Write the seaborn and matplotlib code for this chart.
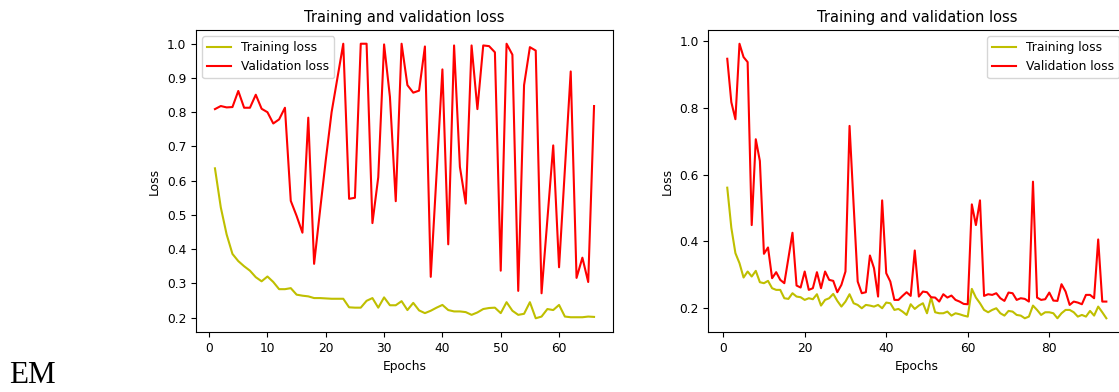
import numpy as np
import matplotlib
matplotlib.use("Agg")
import matplotlib.pyplot as plt
import seaborn as sns

# run 1 (left): 66 epochs
train_loss_1 = [0.636, 0.522, 0.443, 0.386, 0.365, 0.35, 0.337, 0.318, 0.306, 0.32,
                0.304, 0.283, 0.283, 0.286, 0.267, 0.264, 0.262, 0.257, 0.257, 0.256,
                0.255, 0.255, 0.255, 0.23, 0.229, 0.229, 0.249, 0.257, 0.229, 0.259,
                0.236, 0.236, 0.248, 0.222, 0.243, 0.221, 0.213, 0.22, 0.229, 0.237,
                0.222, 0.218, 0.218, 0.216, 0.208, 0.215, 0.225, 0.228, 0.229, 0.213,
                0.245, 0.22, 0.208, 0.211, 0.245, 0.198, 0.203, 0.225, 0.222, 0.237,
                0.203, 0.201, 0.201, 0.201, 0.203, 0.202]
val_loss_1 = [0.809, 0.818, 0.814, 0.815, 0.862, 0.813, 0.813, 0.851, 0.81, 0.80,
              0.767, 0.779, 0.813, 0.541, 0.497, 0.448, 0.784, 0.357, 0.51, 0.66,
              0.80, 0.90, 1.0, 0.547, 0.55, 1.0, 1.0, 0.476, 0.61, 0.998,
              0.845, 0.54, 1.0, 0.879, 0.857, 0.863, 0.992, 0.319, 0.62, 0.925,
              0.414, 0.995, 0.64, 0.533, 0.995, 0.809, 0.995, 0.993, 0.975, 0.337,
              1.0, 0.968, 0.278, 0.879, 0.99, 0.98, 0.271, 0.487, 0.703, 0.347,
              0.633, 0.919, 0.316, 0.375, 0.304, 0.818]

# run 2 (right): 94 epochs
train_loss_2 = [0.561, 0.441, 0.365, 0.335, 0.292, 0.310, 0.295, 0.312, 0.278, 0.275,
                0.282, 0.26, 0.255, 0.255, 0.23, 0.228, 0.245, 0.235, 0.233, 0.225,
                0.23, 0.227, 0.242, 0.208, 0.225, 0.23, 0.243, 0.222, 0.205, 0.22,
                0.242, 0.215, 0.21, 0.20, 0.21, 0.208, 0.205, 0.21, 0.20, 0.217,
                0.215, 0.195, 0.198, 0.19, 0.18, 0.212, 0.198, 0.208, 0.215, 0.185,
                0.232, 0.188, 0.185, 0.185, 0.19, 0.178, 0.185, 0.182, 0.178, 0.175,
                0.258, 0.232, 0.215, 0.195, 0.188, 0.195, 0.2, 0.185, 0.178, 0.192,
                0.19, 0.18, 0.178, 0.17, 0.175, 0.208, 0.195, 0.18, 0.188, 0.188,
                0.185, 0.17, 0.185, 0.195, 0.195, 0.188, 0.175, 0.18, 0.175, 0.192,
                0.178, 0.205, 0.188, 0.17]
val_loss_2 = [0.947, 0.817, 0.766, 0.992, 0.952, 0.937, 0.449, 0.706, 0.641, 0.363,
              0.382, 0.29, 0.308, 0.285, 0.275, 0.35, 0.426, 0.268, 0.262, 0.31,
              0.255, 0.26, 0.308, 0.26, 0.31, 0.285, 0.282, 0.248, 0.27, 0.31,
              0.746, 0.51, 0.28, 0.245, 0.248, 0.358, 0.32, 0.235, 0.523, 0.305,
              0.28, 0.225, 0.225, 0.237, 0.248, 0.237, 0.373, 0.235, 0.25, 0.248,
              0.233, 0.232, 0.22, 0.242, 0.232, 0.238, 0.225, 0.22, 0.213, 0.212,
              0.511, 0.449, 0.523, 0.237, 0.242, 0.24, 0.245, 0.23, 0.222, 0.247,
              0.245, 0.225, 0.23, 0.228, 0.22, 0.579, 0.232, 0.225, 0.227, 0.247,
              0.223, 0.222, 0.272, 0.25, 0.21, 0.22, 0.217, 0.212, 0.24, 0.24,
              0.23, 0.406, 0.22, 0.22]

plt.rcParams['font.size'] = 8.8
plt.rcParams['axes.titlesize'] = 'large'

W, H = 1119, 392
fig = plt.figure(figsize=(W / 100, H / 100), dpi=100)
ax1 = fig.add_axes([196 / W, 60 / H, 417 / W, 302 / H])
ax2 = fig.add_axes([708.3 / W, 60 / H, 417 / W, 302 / H])  # runs past the right edge, like the cropped screenshot

runs = [(ax1, train_loss_1, val_loss_1, 'upper left'),
        (ax2, train_loss_2, val_loss_2, 'upper right')]
for ax, tr, va, loc in runs:
    epochs = np.arange(1, len(tr) + 1)
    sns.lineplot(x=epochs, y=tr, color='y', label='Training loss', ax=ax)
    sns.lineplot(x=epochs, y=va, color='r', label='Validation loss', ax=ax)
    ax.set_title('Training and validation loss')
    ax.set_xlabel('Epochs')
    ax.set_ylabel('Loss')
    ax.legend(loc=loc)

fig.text(9 / W, 9 / H, 'EM', family='Liberation Serif', fontsize=22.4, va='baseline')

fig.savefig('out.png', dpi=100)
